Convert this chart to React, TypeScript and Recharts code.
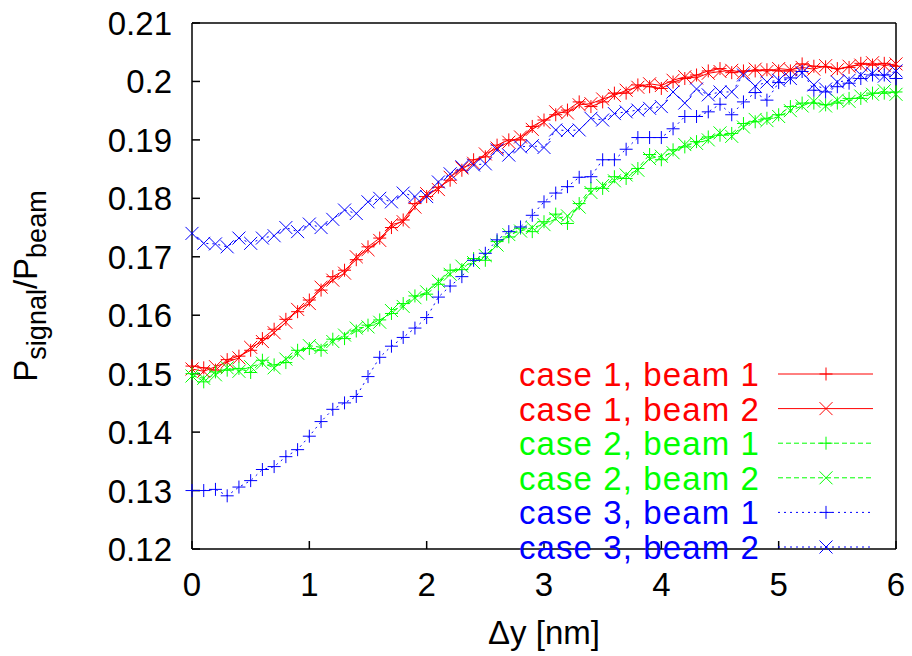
import { LineChart, Line, XAxis, YAxis } from 'recharts';

// Δy positions [nm]
const DY = [
  0, 0.1, 0.2, 0.3, 0.4, 0.5, 0.6, 0.7, 0.8, 0.9, 1, 1.1, 1.2, 1.3, 1.4, 1.5, 1.6, 1.7, 1.8, 1.9, 2, 2.1, 2.2, 2.3, 2.4, 2.5, 2.6, 2.7,
  2.8, 2.9, 3, 3.1, 3.2, 3.3, 3.4, 3.5, 3.6, 3.7, 3.8, 3.9, 4, 4.1, 4.2, 4.3, 4.4, 4.5, 4.6, 4.7, 4.8, 4.9, 5, 5.1, 5.2, 5.3, 5.4, 5.5,
  5.6, 5.7, 5.8, 5.9, 6,
];

const CASE1_BEAM1 = [
  0.1513, 0.151, 0.1506, 0.1524, 0.153, 0.154, 0.156, 0.1576, 0.1593, 0.1606, 0.1626, 0.1643, 0.1666, 0.1677, 0.1695, 0.1717, 0.1732,
  0.175, 0.1763, 0.1791, 0.1803, 0.1819, 0.1831, 0.1848, 0.1866, 0.1871, 0.1891, 0.19, 0.19, 0.1923, 0.1934, 0.1943, 0.1951, 0.1965,
  0.1957, 0.1965, 0.198, 0.198, 0.1994, 0.1991, 0.1988, 0.1999, 0.2005, 0.2011, 0.2018, 0.2022, 0.2015, 0.2018, 0.2018, 0.202, 0.2018,
  0.2018, 0.203, 0.2026, 0.2025, 0.2022, 0.2024, 0.2031, 0.2028, 0.2031, 0.2026,
];

const CASE1_BEAM2 = [
  0.1508, 0.1504, 0.1512, 0.152, 0.1527, 0.1545, 0.1555, 0.157, 0.1588, 0.161, 0.162, 0.1648, 0.166, 0.1672, 0.17, 0.1712, 0.1728,
  0.1755, 0.176, 0.1785, 0.1808, 0.1815, 0.1836, 0.1852, 0.186, 0.1876, 0.1886, 0.1896, 0.1905, 0.1918, 0.193, 0.1948, 0.1946, 0.196,
  0.1962, 0.197, 0.1976, 0.1985, 0.199, 0.1996, 0.1993, 0.2002, 0.2008, 0.2006, 0.2014, 0.2017, 0.2019, 0.2015, 0.2021, 0.2017, 0.2022,
  0.202, 0.2024, 0.2021, 0.2027, 0.202, 0.2026, 0.2028, 0.2032, 0.2027, 0.203,
];

const CASE2_BEAM1 = [
  0.15, 0.1486, 0.1503, 0.1506, 0.1509, 0.1502, 0.1523, 0.1515, 0.1519, 0.154, 0.1543, 0.154, 0.1559, 0.156, 0.1573, 0.1583, 0.1592,
  0.1603, 0.162, 0.1633, 0.1636, 0.1653, 0.1677, 0.1678, 0.1697, 0.1694, 0.1726, 0.1734, 0.1749, 0.1743, 0.176, 0.1773, 0.1757, 0.1791,
  0.1817, 0.1817, 0.1837, 0.1834, 0.1851, 0.1875, 0.1866, 0.1883, 0.1888, 0.1897, 0.1905, 0.1908, 0.1911, 0.1928, 0.1931, 0.1937,
  0.1943, 0.1957, 0.1963, 0.1963, 0.196, 0.1963, 0.1971, 0.1971, 0.198, 0.198, 0.1982,
];

const CASE2_BEAM2 = [
  0.1496, 0.1492, 0.1498, 0.151, 0.1504, 0.1512, 0.1518, 0.151, 0.1525, 0.1535, 0.1548, 0.1545, 0.1555, 0.1566, 0.1578, 0.158, 0.1588,
  0.1608, 0.1615, 0.163, 0.164, 0.1658, 0.167, 0.1684, 0.169, 0.1702, 0.172, 0.1738, 0.1744, 0.175, 0.1755, 0.1765, 0.177, 0.1785,
  0.181, 0.1822, 0.183, 0.184, 0.1848, 0.1868, 0.1872, 0.1878, 0.1892, 0.1894, 0.19, 0.1912, 0.1906, 0.1922, 0.1935, 0.1933, 0.194,
  0.195, 0.1958, 0.1966, 0.1958, 0.1968, 0.1966, 0.1975, 0.1978, 0.1984, 0.1978,
];

const CASE3_BEAM1 = [
  0.13, 0.13, 0.1302, 0.1291, 0.1306, 0.1317, 0.1336, 0.1341, 0.1358, 0.137, 0.1393, 0.1418, 0.1439, 0.145, 0.1461, 0.1495, 0.1528,
  0.1547, 0.1562, 0.1578, 0.1596, 0.1631, 0.165, 0.1666, 0.1694, 0.1706, 0.1729, 0.1743, 0.1751, 0.1771, 0.1794, 0.1809, 0.182, 0.1836,
  0.1837, 0.1866, 0.1866, 0.1884, 0.1904, 0.1904, 0.1904, 0.1919, 0.194, 0.194, 0.1948, 0.1961, 0.1943, 0.1965, 0.1981, 0.1968, 0.1998,
  0.2006, 0.2017, 0.1985, 0.1982, 0.1991, 0.1997, 0.2005, 0.2011, 0.2011, 0.2005,
];

const CASE3_BEAM2 = [
  0.174, 0.1723, 0.1722, 0.1717, 0.1732, 0.1723, 0.1732, 0.1736, 0.175, 0.1743, 0.1756, 0.175, 0.1764, 0.178, 0.1774, 0.1794, 0.18,
  0.1794, 0.1809, 0.1803, 0.1803, 0.1828, 0.1842, 0.1854, 0.1857, 0.1859, 0.1883, 0.1874, 0.1888, 0.189, 0.1887, 0.1917, 0.1916, 0.1917,
  0.1937, 0.1934, 0.1945, 0.1948, 0.1951, 0.1954, 0.1957, 0.1982, 0.1963, 0.1987, 0.1977, 0.1982, 0.1982, 0.2011, 0.1992, 0.1999,
  0.2002, 0.2005, 0.2015, 0.1994, 0.1987, 0.1999, 0.2002, 0.2011, 0.2014, 0.2009, 0.2018,
];

const X_TICKS = [0, 1, 2, 3, 4, 5, 6];
const Y_TICKS = [0.12, 0.13, 0.14, 0.15, 0.16, 0.17, 0.18, 0.19, 0.2, 0.21];

const FONT = '"Liberation Sans", Arial, Helvetica, sans-serif';
const FS = 33;

const SERIES = [
  { key: 'c1b1', label: 'case 1, beam 1', color: '#ff0000', dash: undefined, marker: 'plus' },
  { key: 'c1b2', label: 'case 1, beam 2', color: '#ff0000', dash: undefined, marker: 'cross' },
  { key: 'c2b1', label: 'case 2, beam 1', color: '#00ff00', dash: '5 3', marker: 'plus' },
  { key: 'c2b2', label: 'case 2, beam 2', color: '#00ff00', dash: '5 3', marker: 'cross' },
  { key: 'c3b1', label: 'case 3, beam 1', color: '#0000ff', dash: '2 4', marker: 'plus' },
  { key: 'c3b2', label: 'case 3, beam 2', color: '#0000ff', dash: '2 4', marker: 'cross' },
];

const data = DY.map((dy, i) => ({
  dy,
  c1b1: CASE1_BEAM1[i],
  c1b2: CASE1_BEAM2[i],
  c2b1: CASE2_BEAM1[i],
  c2b2: CASE2_BEAM2[i],
  c3b1: CASE3_BEAM1[i],
  c3b2: CASE3_BEAM2[i],
}));

const markerPath = (type: string, cx: number, cy: number, r = 6.5) =>
  type === 'plus'
    ? `M${cx - r},${cy}H${cx + r}M${cx},${cy - r}V${cy + r}`
    : `M${cx - r},${cy - r}L${cx + r},${cy + r}M${cx - r},${cy + r}L${cx + r},${cy - r}`;

const makeDot = (type: string, color: string) => (props: any) => {
  const { cx, cy, index } = props;
  if (cx == null || cy == null) return <g key={`d-${index}`} />;
  return <path key={`d-${index}`} d={markerPath(type, cx, cy)} stroke={color} strokeWidth={1} fill="none" />;
};

const YTick = (props: any) => {
  const { x, y, payload } = props;
  return (
    <text x={x} y={y} dy={12} textAnchor="end" fontSize={FS} fontFamily={FONT} fill="#000">
      {Number(payload.value.toFixed(2)).toString()}
    </text>
  );
};

const XTick = (props: any) => {
  const { x, y, payload } = props;
  return (
    <text x={x} y={y} dy={23} textAnchor="middle" fontSize={FS} fontFamily={FONT} fill="#000">
      {payload.value}
    </text>
  );
};

const axisLine = { stroke: '#000', strokeWidth: 1.5 };
const tickLine = { stroke: '#000', strokeWidth: 1.5 };

export default function App() {
  return (
    <div style={{ position: 'absolute', left: 0, top: 0, width: 912, height: 656, background: '#fff' }}>
      <LineChart width={912} height={656} data={data} margin={{ top: 22, right: 15, bottom: 0, left: 0 }}>
        <XAxis
          dataKey="dy"
          type="number"
          domain={[0, 6]}
          ticks={X_TICKS}
          height={107}
          tickSize={-8}
          tickMargin={32}
          axisLine={axisLine}
          tickLine={tickLine}
          tick={XTick}
        />
        <XAxis
          xAxisId="top"
          orientation="top"
          dataKey="dy"
          type="number"
          domain={[0, 6]}
          ticks={X_TICKS}
          height={1}
          tickSize={-8}
          axisLine={axisLine}
          tickLine={tickLine}
          tick={false}
        />
        <YAxis
          type="number"
          domain={[0.12, 0.21]}
          ticks={Y_TICKS}
          width={192}
          tickSize={-8}
          tickMargin={28}
          axisLine={axisLine}
          tickLine={tickLine}
          tick={YTick}
          allowDataOverflow
        />
        <YAxis
          yAxisId="right"
          orientation="right"
          type="number"
          domain={[0.12, 0.21]}
          ticks={Y_TICKS}
          width={1}
          tickSize={-8}
          axisLine={axisLine}
          tickLine={tickLine}
          tick={false}
        />
        {SERIES.map(s => (
          <Line
            key={s.key}
            type="linear"
            dataKey={s.key}
            stroke={s.color}
            strokeWidth={1}
            strokeDasharray={s.dash}
            dot={makeDot(s.marker, s.color)}
            activeDot={false}
            isAnimationActive={false}
          />
        ))}
      </LineChart>

      {/* axis titles and key */}
      <svg width={912} height={656} style={{ position: 'absolute', left: 0, top: 0, pointerEvents: 'none' }}>
        <text
          transform="translate(37,286) rotate(-90)"
          textAnchor="middle"
          fontSize={FS}
          fontFamily={FONT}
          fill="#000"
        >
          <tspan>P</tspan>
          <tspan dy={9} fontSize={27}>
            signal
          </tspan>
          <tspan dy={-9}>/P</tspan>
          <tspan dy={9} fontSize={27}>
            beam
          </tspan>
        </text>
        <text x={544} y={644} textAnchor="middle" fontSize={FS} fontFamily={FONT} fill="#000">
          Δy [nm]
        </text>

        {SERIES.map((s, i) => {
          const y = 374 + i * 34.6;
          return (
            <g key={s.key}>
              <text
                x={760}
                y={y + 12}
                textAnchor="end"
                fontSize={FS}
                letterSpacing={1.1}
                fontFamily={FONT}
                fill={s.color}
              >
                {s.label}
              </text>
              <line x1={778} x2={873} y1={y} y2={y} stroke={s.color} strokeWidth={1} strokeDasharray={s.dash} />
              <path d={markerPath(s.marker, 826, y)} stroke={s.color} strokeWidth={1} fill="none" />
            </g>
          );
        })}
      </svg>
    </div>
  );
}
